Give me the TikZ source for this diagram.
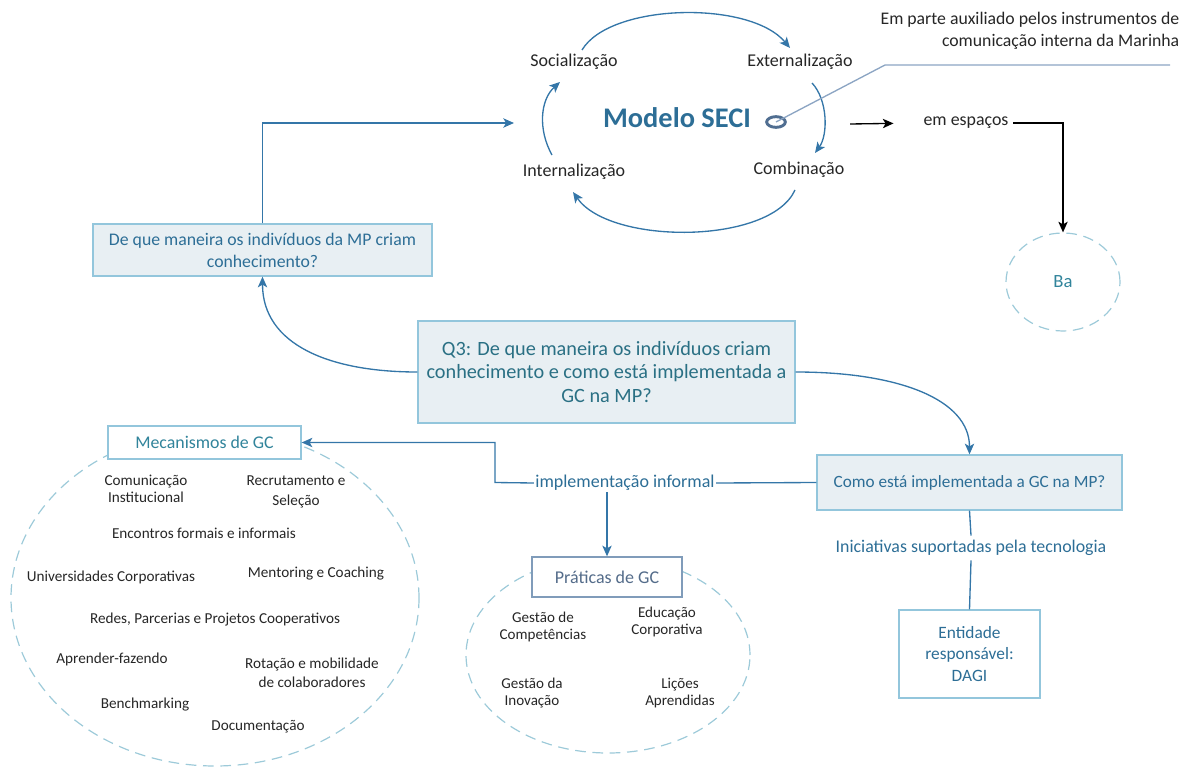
\documentclass[tikz,border=0pt]{standalone}
\usepackage{fontspec}
\setmainfont{Carlito}
\usetikzlibrary{arrows.meta,shapes.geometric}

\definecolor{arrowblue}{RGB}{52,118,168}
\definecolor{boxfill}{RGB}{232,239,243}
\definecolor{boxline}{RGB}{147,198,220}
\definecolor{dashcol}{RGB}{157,202,217}
\definecolor{tealtext}{RGB}{49,132,155}
\definecolor{bluetext}{RGB}{45,110,150}
\definecolor{graytext}{RGB}{84,108,138}
\definecolor{grayline}{RGB}{128,156,186}
\definecolor{calloutline}{RGB}{140,165,195}
\definecolor{ringcol}{RGB}{80,110,145}

\tikzset{
  fs/.style 2 args={font=\fontsize{#1}{#2}\selectfont},
  qbox/.style={draw=boxline, fill=boxfill, line width=1pt, align=center, inner sep=0pt},
  wbox/.style={draw=boxline, fill=white, line width=1pt, align=center, inner sep=0pt},
  dashell/.style={ellipse, draw=dashcol, line width=0.9pt, dash pattern=on 8pt off 5pt, inner sep=0pt},
  conn/.style={draw=arrowblue, line width=1pt},
  tip/.style={-{Stealth[length=8pt,width=7pt,inset=2pt]}},
  item/.style={align=center, fs={11.4}{13}, text=black!85},
  pitem/.style={align=center, fs={11.3}{12.5}, text=black!85},
  seci/.style={fs={13.5}{15}, text=black!85},
}

\begin{document}
\begin{tikzpicture}[x=0.75pt,y=-0.75pt]
\useasboundingbox (0,0) rectangle (1192,767);

% ---------- SECI cycle ----------
\node[seci] (soc)  at (574,62)  {Socialização};
\node[seci] (ext)  at (800,62)  {Externalização};
\node[seci] (int)  at (574,172) {Internalização};
\node[seci] (comb) at (799,170) {Combinação};
\node[font=\fontsize{21.3}{25}\selectfont\bfseries, text=bluetext] (seci) at (677,118) {Modelo SECI};

\draw[conn,tip] (582,50) .. controls (610,3) and (750,0) .. (790,48);
\draw[conn,tip] (812,83) .. controls (828,100) and (828,135) .. (815,153);
\draw[conn,tip] (795,190) .. controls (770,245) and (610,245) .. (573,192);
\draw[conn,tip] (552,155) .. controls (538,130) and (540,100) .. (560,82);

% callout ring and its leader
\node[ellipse, draw=ringcol, line width=2.2pt, minimum width=14pt, minimum height=8pt, inner sep=0pt] (ring) at (776,122) {};
\coordinate (callbend) at (885,65);
\coordinate (callend) at (1170,65);
\draw[draw=calloutline, line width=1pt] (ring.center) -- (callbend) -- (callend);
\node[align=right, anchor=east, fs={13.3}{17}, text=black!85] (note) at (1184,31)
  {Em parte auxiliado pelos instrumentos de\\comunicação interna da Marinha};

% ---------- em espaços / Ba ----------
\coordinate (seciout) at (850,124);
\node[fs={13.4}{15}, text=black!85] (esp) at (966,123) {em espaços};
\node[dashell, minimum width=85.5pt, minimum height=73.5pt, fs={14}{16}, text=tealtext] (ba) at (1063,282) {Ba};
\draw[black, line width=1pt, tip, shorten >=19pt] (seciout) -- (esp.west);
\draw[black, line width=1pt, tip] (esp.east) -| (ba.north);

% ---------- question boxes ----------
\node[qbox, minimum width=254.25pt, minimum height=39pt, fs={13.3}{16.5}, text=bluetext] (qa) at (262.5,250)
  {De que maneira os indivíduos da MP criam\\conhecimento?};
\coordinate (seciin) at (514,123);
\draw[conn,tip] (qa.north) |- (seciin);

\node[qbox, minimum width=282.75pt, minimum height=76.5pt, fs={15.2}{17.5}, text=tealtext!85!black] (q3) at (606.5,372)
  {Q3: De que maneira os indivíduos criam\\conhecimento e como está implementada a\\GC na MP?};
\draw[conn,tip] (q3.west) .. controls (330,372) and (262.5,345) .. (qa.south);

\node[qbox, minimum width=228.75pt, minimum height=41.25pt, fs={12.9}{16}, text=bluetext] (como) at (969.5,482.5)
  {Como está implementada a GC na MP?};
\draw[conn,tip] (q3.east) .. controls (900,372) and (969.5,400) .. (como.north);

\node[fs={13.4}{15}, text=bluetext] (init) at (971,548) {Iniciativas suportadas pela tecnologia};
\node[wbox, minimum width=105.75pt, minimum height=66pt, fs={13}{16}, text=bluetext] (ent) at (969.5,654)
  {Entidade\\responsável:\\DAGI};
\draw[conn] (como.south) -- (init.north);
\draw[conn] (init.south) -- (ent.north);

% ---------- Mecanismos de GC ----------
\node[dashell, minimum width=306pt, minimum height=252pt] (mecell) at (215,598) {};
\node[wbox, minimum width=144.75pt, minimum height=24.75pt, fs={13.4}{15}, text=tealtext] (mec) at (204.5,442.5) {Mecanismos de GC};

\node[item] (m1)  at (146,489) {Comunicação\\Institucional};
\node[item, fs={11.4}{14.5}] (m2)  at (296,492) {Recrutamento e\\Seleção};
\node[item] (m3)  at (204,533) {Encontros formais e informais};
\node[item] (m4)  at (111,577) {Universidades Corporativas};
\node[item] (m5)  at (316,574) {Mentoring e Coaching};
\node[item] (m6)  at (215,620) {Redes, Parcerias e Projetos Cooperativos};
\node[item] (m7)  at (112,659) {Aprender-fazendo};
\node[item, fs={11.4}{14.5}] (m8)  at (312,673) {Rotação e mobilidade\\de colaboradores};
\node[item] (m9)  at (145,705) {Benchmarking};
\node[item] (m10) at (258,727) {Documentação};

% ---------- Práticas de GC ----------
\node[dashell, minimum width=213pt, minimum height=147pt] (pratell) at (608,655) {};
\node[draw=grayline, fill=white, line width=1pt, inner sep=0pt, minimum width=112.5pt, minimum height=30pt, fs={13.5}{15}, text=graytext] (prat) at (607,577) {Práticas de GC};

\node[pitem] (p1) at (543,627) {Gestão de\\Competências};
\node[pitem] (p2) at (667,622) {Educação\\Corporativa};
\node[pitem] (p3) at (532,693) {Gestão da\\Inovação};
\node[pitem] (p4) at (680,693) {Lições\\Aprendidas};

% ---------- informal implementation branch ----------
\node[fill=white, inner sep=1pt, fs={13.5}{15}, text=bluetext] (impl) at (625,483) {implementação informal};
\coordinate (implbend) at (495,482.5);
\draw[conn] (como.west) -- (impl.east);
\draw[conn,tip] (impl.west) -- (implbend) |- (mec.east);
\draw[conn,tip] (impl.south -| prat.north) -- (prat.north);

\end{tikzpicture}
\end{document}
